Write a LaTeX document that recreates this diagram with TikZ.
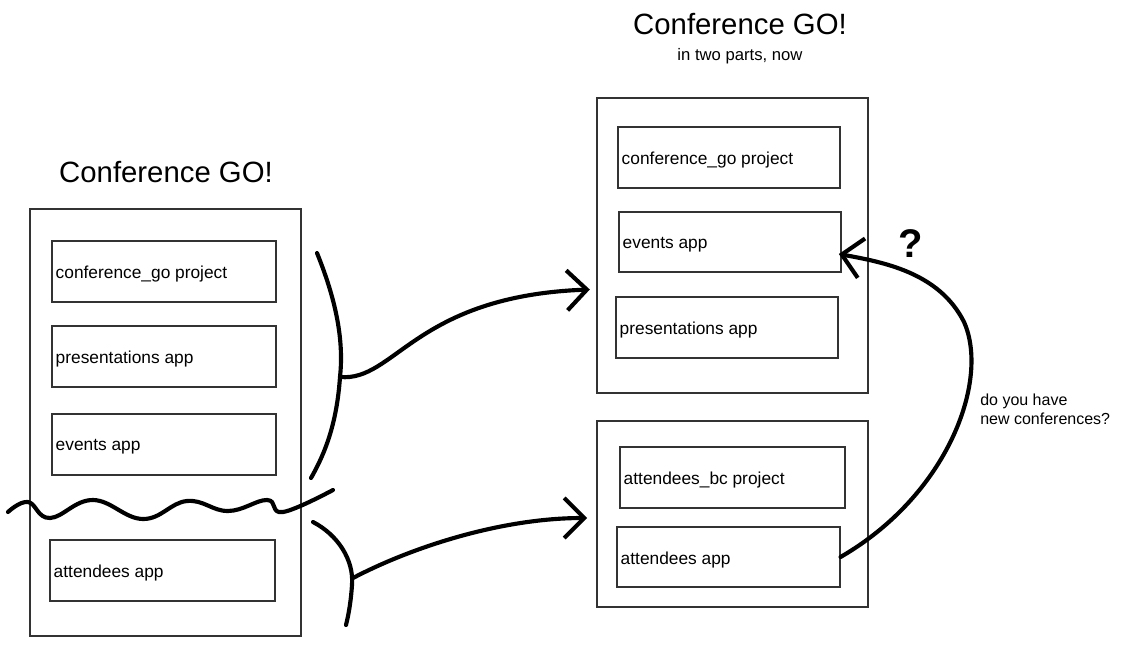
\documentclass[tikz,border=0pt]{standalone}
\usepackage{fontspec}
\setmainfont{Liberation Sans}
\usetikzlibrary{arrows.meta,fit,calc}
\begin{document}
\begin{tikzpicture}[x=0.75pt,y=-0.75pt,
  box/.style={draw=black!80,line width=0.8pt,inner sep=0pt},
  lbl/.style={anchor=west,inner sep=0pt,font=\fontsize{13}{15}\selectfont},
  titlefont/.style={font=\fontsize{22}{26}\selectfont},
  thickline/.style={line width=3.1pt,line cap=round,line join=round},
  arr/.style={thickline,-{Straight Barb[length=15pt,width=30pt]}}]
\useasboundingbox (0,0) rectangle (1121,657);

% ---------- left (before) ----------
\node[titlefont] (lt) at (166,172) {Conference GO!};
\node[box,fit={(30,209)(301,636)}] (L) {};
\node[box,fit={(52,241)(276,302)}] (L1) {};
\node[lbl] (L1t) at ([xshift=3pt,yshift=-2pt]L1.west) {conference\_go project};
\node[box,fit={(52,326)(276,387)}] (L2) {};
\node[lbl] (L2t) at ([xshift=3pt,yshift=-2pt]L2.west) {presentations app};
\node[box,fit={(52,414)(276,475)}] (L3) {};
\node[lbl] (L3t) at ([xshift=3pt,yshift=-2pt]L3.west) {events app};
\node[box,fit={(50,540)(275,601)}] (L4) {};
\node[lbl] (L4t) at ([xshift=3pt,yshift=-2pt]L4.west) {attendees app};

% wavy cut
\draw[thickline] plot[smooth,tension=0.7] coordinates
  {(8,512) (28,502) (50,518) (93,500) (143,519) (187,501) (228,511) (267,500) (283,512) (333,490)};

% ---------- right (after) ----------
\node[titlefont] (rt) at (740,24) {Conference GO!};
\node[font=\fontsize{12.5}{14}\selectfont] (rs) at (740,56) {in two parts, now};
\node[box,fit={(597,98)(868,393)}] (R) {};
\node[box,fit={(618,127)(840,188)}] (R1) {};
\node[lbl] (R1t) at ([xshift=3pt,yshift=-2pt]R1.west) {conference\_go project};
\node[box,fit={(619,212)(841,272)}] (R2) {};
\node[lbl] (R2t) at ([xshift=3pt,yshift=-2pt]R2.west) {events app};
\node[box,fit={(616,297)(838,358)}] (R3) {};
\node[lbl] (R3t) at ([xshift=3pt,yshift=-2pt]R3.west) {presentations app};

\node[box,fit={(597,421)(868,607)}] (Rb) {};
\node[box,fit={(620,447)(845,508)}] (R4) {};
\node[lbl] (R4t) at ([xshift=3pt,yshift=-2pt]R4.west) {attendees\_bc project};
\node[box,fit={(617,527)(840,587)}] (R5) {};
\node[lbl] (R5t) at ([xshift=3pt,yshift=-2pt]R5.west) {attendees app};

% ---------- braces and arrows ----------
\draw[thickline] (317,253) .. controls (336,300) and (344,340) .. (340,377)
  coordinate (b1) .. controls (337,420) and (327,450) .. (311,478);
\draw[arr] (b1) .. controls (395,382) and (415,296) .. ([xshift=-5pt,yshift=-33pt]R.west);

\draw[thickline] (313,522) .. controls (338,535) and (354,560) .. (352,585)
  .. controls (351,600) and (349,613) .. (346,625);
\coordinate (b2) at (353,578);
\draw[arr] (b2) .. controls (410,548) and (500,518) .. ([xshift=-7pt,yshift=-3pt]Rb.west);

\draw[arr] (R5.east) .. controls (948,495) and (990,380) .. (964,322)
  .. controls (939,272) and (882,262) .. ([xshift=-2pt,yshift=-9pt]R2.east);

\node[font=\fontsize{30}{30}\selectfont\bfseries] (q) at (911,244) {?};
\node[anchor=north west,align=left,inner sep=0pt,font=\fontsize{12}{14}\selectfont] (note) at (980,394) {do you have\\new conferences?};
\end{tikzpicture}
\end{document}
